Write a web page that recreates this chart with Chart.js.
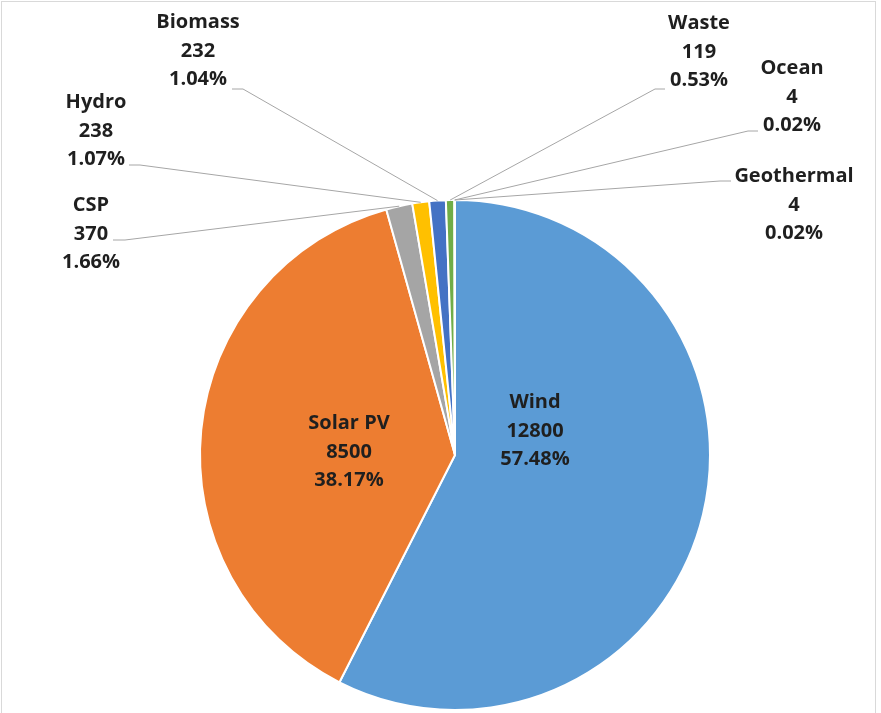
<!DOCTYPE html>
<html>
<head>
<meta charset="utf-8">
<script src="https://cdn.jsdelivr.net/npm/chart.js@4.4.1/dist/chart.umd.min.js"></script>
<style>
  html, body { margin: 0; padding: 0; background: #ffffff; overflow: hidden; }
  #wrap { position: relative; width: 881px; height: 713px; }
  #frame { position: absolute; left: 1px; top: 1px; width: 875px; height: 740px; border: 1px solid #d9d9d9; box-sizing: border-box; }
  #c { position: absolute; left: 0; top: 0; }
</style>
</head>
<body>
<div id="wrap">
  <div id="frame"></div>
  <canvas id="c" width="881" height="713"></canvas>
</div>
<script>
// Renewable capacity by technology
const categories = ['Wind', 'Solar PV', 'CSP', 'Hydro', 'Biomass', 'Waste', 'Ocean', 'Geothermal'];
const capacity = [12800, 8500, 370, 238, 232, 119, 4, 4];
const sliceColors = ['#5b9bd5', '#ed7d31', '#a5a5a5', '#ffc000', '#4472c4', '#70ad47', '#255e91', '#9e480e'];

// Label placement: text centre x, first line y, and where the leader tail starts/ends
const labelLayout = [
  { cx: 535, y: 401, inside: true },
  { cx: 349, y: 422, inside: true },
  { cx: 91,  y: 204, tailX: 113, tailEnd: 125, tailY: 240 },
  { cx: 96,  y: 101, tailX: 129, tailEnd: 140, tailY: 165 },
  { cx: 198, y: 21,  tailX: 232, tailEnd: 243, tailY: 89 },
  { cx: 699, y: 22,  tailX: 665, tailEnd: 655, tailY: 89 },
  { cx: 792, y: 67,  tailX: 758, tailEnd: 748, tailY: 131 },
  { cx: 794, y: 175, tailX: 731, tailEnd: 720, tailY: 181 }
];

const total = capacity.reduce((a, b) => a + b, 0);
const LINE_H = 28.7;

const pieLabels = {
  id: 'pieLabels',
  afterDatasetsDraw(chart) {
    const ctx = chart.ctx;
    const meta = chart.getDatasetMeta(0);
    ctx.save();
    meta.data.forEach((arc, i) => {
      const p = arc.getProps(['x', 'y', 'startAngle', 'endAngle', 'outerRadius'], true);
      const lay = labelLayout[i];
      if (!lay.inside) {
        const mid = (p.startAngle + p.endAngle) / 2;
        const ex = p.x + Math.cos(mid) * p.outerRadius;
        const ey = p.y + Math.sin(mid) * p.outerRadius;
        ctx.strokeStyle = '#a6a6a6';
        ctx.lineWidth = 1;
        ctx.beginPath();
        ctx.moveTo(lay.tailX, lay.tailY);
        ctx.lineTo(lay.tailEnd, lay.tailY);
        ctx.lineTo(ex, ey);
        ctx.stroke();
      }
      const pct = (capacity[i] / total * 100).toFixed(2) + '%';
      const lines = [categories[i], String(capacity[i]), pct];
      ctx.fillStyle = '#1f1f1f';
      ctx.font = 'bold 20px "Open Sans"';
      ctx.textAlign = 'center';
      ctx.textBaseline = 'alphabetic';
      lines.forEach((t, k) => {
        ctx.fillText(t, lay.cx, lay.y + 7 + k * LINE_H);
      });
    });
    ctx.restore();
  }
};

new Chart(document.getElementById('c'), {
  type: 'pie',
  data: {
    labels: categories,
    datasets: [{
      data: capacity,
      backgroundColor: sliceColors,
      borderColor: '#ffffff',
      borderWidth: 2
    }]
  },
  options: {
    responsive: false,
    animation: false,
    layout: { padding: { left: 199, right: 170, top: 199, bottom: 2 } },
    plugins: {
      legend: { display: false },
      tooltip: { enabled: false }
    }
  },
  plugins: [pieLabels]
});
</script>
</body>
</html>
